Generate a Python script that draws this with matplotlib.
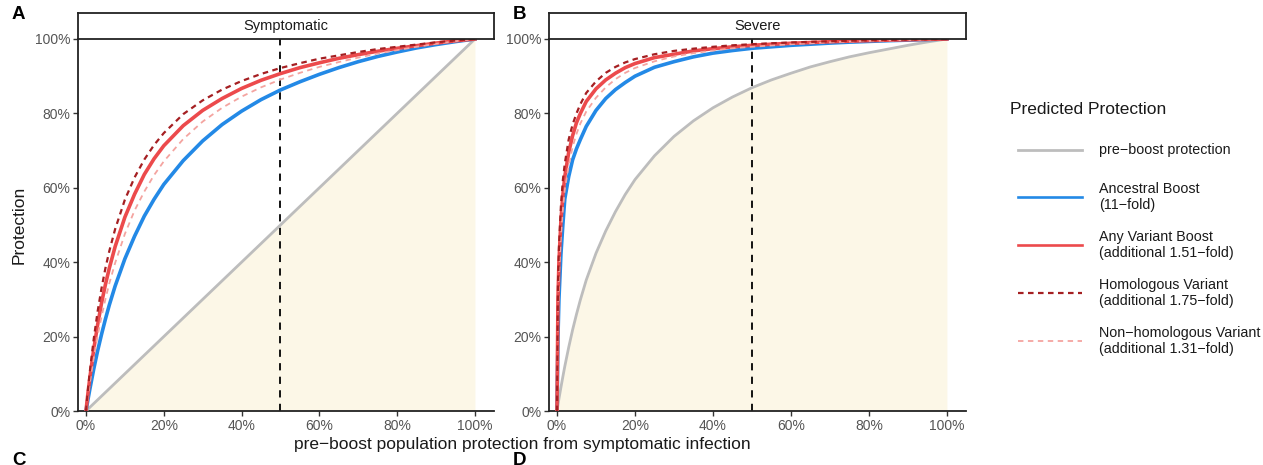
import matplotlib
matplotlib.use('Agg')
import matplotlib.pyplot as plt
from matplotlib.lines import Line2D
from matplotlib.ticker import FuncFormatter

plt.rcParams['font.family'] = ['Liberation Sans', 'DejaVu Sans']

# ---------------- data (percent) ----------------
panel_titles = ['Symptomatic', 'Severe']
panel_letters = ['A', 'B']

# Panel A: Symptomatic
x_sym = [0, 0.5, 1, 2, 3, 4, 5, 6, 7.5, 10, 12.5, 15, 17.5, 20, 25, 30, 35, 40, 45,
         50, 55, 60, 65, 70, 75, 80, 85, 90, 95, 100]
sym_pre = [0, 0.5, 1, 2, 3, 4, 5, 6, 7.5, 10, 12.5, 15, 17.5, 20, 25, 30, 35, 40, 45,
           50, 55, 60, 65, 70, 75, 80, 85, 90, 95, 100]
sym_ancestral = [0, 3.0, 5.9, 11.3, 16.2, 20.6, 24.7, 28.5, 33.6, 40.9, 47.0, 52.4, 56.9,
                 60.9, 67.3, 72.6, 77.0, 80.6, 83.7, 86.3, 88.5, 90.5, 92.3, 93.9, 95.3,
                 96.5, 97.6, 98.5, 99.3, 100]
sym_any = [0, 4.7, 9.0, 16.6, 23.2, 29.0, 34.0, 38.4, 44.2, 52.1, 58.3, 63.6, 67.8, 71.3,
           76.7, 80.8, 84.0, 86.7, 88.9, 90.7, 92.3, 93.6, 94.8, 95.8, 96.7, 97.5, 98.2,
           98.9, 99.5, 100]
sym_homologous = [0, 5.6, 10.7, 19.4, 26.8, 33.0, 38.4, 43.0, 48.9, 56.8, 62.8, 67.6, 71.5,
                  74.7, 79.8, 83.5, 86.4, 88.7, 90.6, 92.2, 93.5, 94.7, 95.6, 96.5, 97.3,
                  97.9, 98.5, 99.1, 99.6, 100]
sym_nonhomologous = [0, 3.9, 7.6, 14.3, 20.2, 25.4, 30.1, 34.3, 39.8, 47.6, 53.9, 59.0, 63.4,
                     67.1, 73.1, 77.8, 81.5, 84.5, 87.0, 89.1, 90.9, 92.5, 93.8, 95.0, 96.1,
                     97.0, 97.9, 98.7, 99.4, 100]

# Panel B: Severe
x_sev = [0, 0.25, 0.5, 1, 1.5, 2, 3, 4, 5, 6, 7.5, 10, 12.5, 15, 17.5, 20, 25, 30, 35, 40,
         45, 50, 55, 60, 65, 70, 75, 80, 85, 90, 95, 100]
sev_pre = [0, 1.6, 3.3, 6.3, 9.2, 12.0, 17.1, 21.8, 26.0, 29.9, 35.2, 42.4, 48.4, 53.6, 58.2,
           62.2, 68.6, 73.8, 78.0, 81.5, 84.4, 86.9, 89.0, 90.8, 92.5, 93.9, 95.2, 96.3,
           97.3, 98.3, 99.2, 100]
sev_ancestral = [0, 20, 30, 42, 50, 57, 63, 67.5, 70.5, 73, 76.5, 80.8, 84.0, 86.4, 88.3,
                 90.0, 92.4, 93.9, 95.2, 96.2, 96.9, 97.5, 97.9, 98.3, 98.6, 98.9, 99.15,
                 99.35, 99.55, 99.7, 99.85, 100]
sev_any = [0, 30, 40, 51, 58, 63, 69.5, 74, 77.5, 80, 83.2, 86.6, 89.0, 90.8, 92.3, 93.4,
           95.0, 95.9, 96.8, 97.4, 97.9, 98.3, 98.6, 98.85, 99.05, 99.26, 99.42, 99.56,
           99.69, 99.8, 99.9, 100]
sev_homologous = [0, 34, 44, 55, 62, 66.5, 73, 77, 80, 82.5, 85.5, 88.6, 90.9, 92.5, 93.7,
                  94.6, 95.9, 96.8, 97.4, 97.9, 98.3, 98.6, 98.85, 99.06, 99.23, 99.39,
                  99.52, 99.64, 99.74, 99.84, 99.92, 100]
sev_nonhomologous = [0, 26, 36, 47, 54, 59.5, 66, 71, 74.5, 77.3, 80.5, 84.2, 87.0, 89.2,
                     90.9, 92.2, 94.0, 95.3, 96.2, 96.9, 97.5, 97.9, 98.25, 98.6, 98.85,
                     99.1, 99.3, 99.45, 99.6, 99.75, 99.88, 100]

tick_values = [0, 20, 40, 60, 80, 100]
cutoff = 50

legend_title = 'Predicted Protection'
legend_labels = ['pre\u2212boost protection',
                 'Ancestral Boost\n(11\u2212fold)',
                 'Any Variant Boost\n(additional 1.51\u2212fold)',
                 'Homologous Variant\n(additional 1.75\u2212fold)',
                 'Non\u2212homologous Variant\n(additional 1.31\u2212fold)']

# ---------------- styles ----------------
C_PRE = '#BDBDBD'
C_ANC = '#2389E6'
C_ANY = '#EC4A4C'
C_HOM = '#A51F22'
C_NON = '#F4A4A0'
C_FILL = '#FCF7E7'
styles = [
    dict(color=C_PRE, lw=2.0, ls='-'),
    dict(color=C_ANC, lw=2.6, ls='-'),
    dict(color=C_ANY, lw=2.6, ls='-'),
    dict(color=C_HOM, lw=1.6, ls=(0, (2.5, 2))),
    dict(color=C_NON, lw=1.3, ls=(0, (3, 2.5))),
]

W, H = 1263, 465
fig = plt.figure(figsize=(W / 100, H / 100), dpi=100)

def fx(px):
    return px / W

def fy(py):
    return 1 - py / H

axes_px = [(78, 494), (549, 966)]
top_px, bot_px = 39, 411
strip_top = 13

datasets = [
    (x_sym, sym_pre, [sym_ancestral, sym_any, sym_nonhomologous, sym_homologous]),
    (x_sev, sev_pre, [sev_ancestral, sev_any, sev_nonhomologous, sev_homologous]),
]
order_styles = [styles[1], styles[2], styles[4], styles[3]]

pct = FuncFormatter(lambda v, p: f'{v:.0f}%')

for i, ((l, r), (xs, pre, curves)) in enumerate(zip(axes_px, datasets)):
    ax = fig.add_axes([fx(l), fy(bot_px), fx(r - l), (bot_px - top_px) / H])
    ax.fill_between(xs, 0, pre, color=C_FILL, lw=0, zorder=1)
    ax.axvline(cutoff, color='black', lw=1.3, ls=(0, (4, 3.5)), zorder=2)
    ax.plot(xs, pre, zorder=3, **styles[0])
    for ys, st in zip(curves, order_styles):
        ax.plot(xs, ys, zorder=4, **st)
    ax.set_xlim(-2.05, 104.9)
    ax.set_ylim(0, 100)
    ax.set_xticks(tick_values)
    ax.set_yticks(tick_values)
    ax.xaxis.set_major_formatter(pct)
    ax.yaxis.set_major_formatter(pct)
    for s in ['top', 'right']:
        ax.spines[s].set_visible(False)
    for s in ['left', 'bottom']:
        ax.spines[s].set_linewidth(1.3)
        ax.spines[s].set_color('#222222')
    ax.tick_params(axis='both', length=3.5, width=1.0, color='#333333',
                   labelcolor='#555555', labelsize=10, pad=2)
    # facet strip
    sax = fig.add_axes([fx(l), fy(top_px), fx(r - l), (top_px - strip_top) / H])
    sax.set_xticks([])
    sax.set_yticks([])
    for s in sax.spines.values():
        s.set_linewidth(1.3)
        s.set_color('#222222')
    sax.text(0.5, 0.5, panel_titles[i], ha='center', va='center',
             fontsize=10.5, color='#1A1A1A', transform=sax.transAxes)
    fig.text(fx(12 if i == 0 else 513), fy(6), panel_letters[i],
             fontsize=13.5, fontweight='bold', ha='left', va='top')

# lower panel letters (cut off in the reference)
fig.text(fx(12), fy(452), 'C', fontsize=13.5, fontweight='bold', ha='left', va='top')
fig.text(fx(513), fy(452), 'D', fontsize=13.5, fontweight='bold', ha='left', va='top')

# axis titles
fig.text(fx(522), fy(444), 'pre\u2212boost population protection from symptomatic infection',
         ha='center', va='center', fontsize=12.5, color='#1A1A1A')
fig.text(fx(19), fy(225), 'Protection', rotation=90, ha='center', va='center',
         fontsize=12.5, color='#1A1A1A')

# legend (drawn manually, ggplot-style)
fig.text(fx(1010), fy(110), legend_title, ha='left', va='center',
         fontsize=12.5, color='#1A1A1A')
leg_y = [150, 197, 245, 293, 341]
for yy, lab, st in zip(leg_y, legend_labels, styles):
    lw = 1.9 if st['lw'] > 2 else st['lw']
    fig.add_artist(Line2D([fx(1018), fx(1082)], [fy(yy), fy(yy)], color=st['color'],
                          lw=lw, ls=st['ls']))
    fig.text(fx(1099), fy(yy), lab, ha='left', va='center', fontsize=10.3,
             color='#1A1A1A', linespacing=1.15)

fig.savefig('out.png', dpi=100)
